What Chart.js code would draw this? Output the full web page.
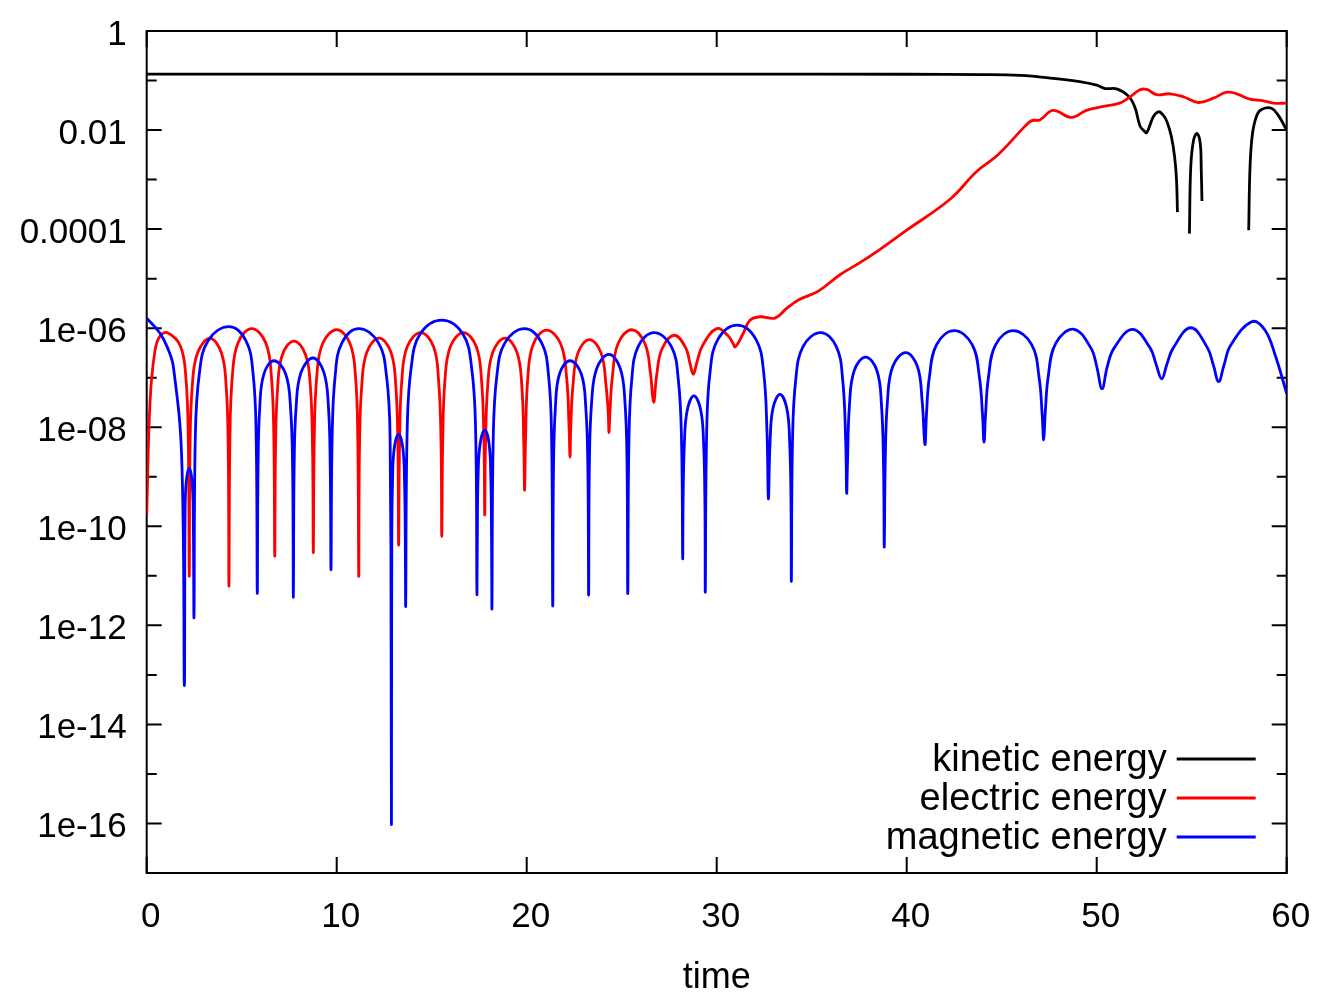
<!DOCTYPE html>
<html>
<head>
<meta charset="utf-8">
<title>Energies vs time</title>
<script src="https://cdn.jsdelivr.net/npm/chart.js@4.4.1/dist/chart.umd.min.js"></script>
<style>
  html, body { margin: 0; padding: 0; background: #fff; }
  #wrap { width: 1334px; height: 1000px; position: relative; }
</style>
</head>
<body>
<div id="wrap"><canvas id="energyChart"></canvas></div>
<script>
// axis ticks
const xTicks = [0, 10, 20, 30, 40, 50, 60];
const yTickValues = [1, 1e-1, 1e-2, 1e-3, 1e-4, 1e-5, 1e-6, 1e-7, 1e-8, 1e-9, 1e-10, 1e-11, 1e-12, 1e-13, 1e-14, 1e-15, 1e-16];
const yTickLabels = ['1', '', '0.01', '', '0.0001', '', '1e-06', '', '1e-08', '', '1e-10', '', '1e-12', '', '1e-14', '', '1e-16'];

const seriesLabels = ['kinetic energy', 'electric energy', 'magnetic energy'];
const seriesColors = ['#000000', '#ff0000', '#0000ff'];

// kinetic energy (null = gap, value <= 0 in the log plot)
const kineticT = [0, 30, 40, 44, 45.97, 47.70, 49.10, 50.00, 50.44, 51.05, 51.66, 52.00, 52.28, 52.45, 52.63, 52.98, 53.25, 53.50, 53.70, 53.93, 54.10, 54.20, 54.25, 54.55, 54.88, 54.95, 55.10, 55.28, 55.45, 55.50, 55.54, 56.80, 58.00, 58.07, 58.20, 58.43, 58.70, 59.20, 59.55, 60.0];
const kineticE = [0.135, 0.135, 0.134, 0.132, 0.127, 0.111, 0.0955, 0.081, 0.069, 0.068, 0.049, 0.0295, 0.012, 0.010, 0.0089, 0.0186, 0.0234, 0.020, 0.0148, 0.0074, 0.0029, 0.001, 2.2e-4, null, 8.1e-5, 1.8e-3, 6.3e-3, 8.5e-3, 5.4e-3, 1.8e-3, 3.7e-4, null, 9.5e-5, 1.8e-3, 8.5e-3, 0.020, 0.0263, 0.0275, 0.020, 0.010];

// electric energy
const electricT = [0, 0.18, 0.44, 0.70, 1.10, 1.78, 2.07, 2.19, 2.24, 2.28, 2.40, 2.68, 3.33, 3.93, 4.18, 4.29, 4.33, 4.38, 4.51, 4.81, 5.53, 6.26, 6.56, 6.69, 6.74, 6.78, 6.89, 7.14, 7.75, 8.36, 8.62, 8.73, 8.77, 8.82, 8.95, 9.26, 10.0, 10.70, 10.99, 11.11, 11.16, 11.20, 11.32, 11.59, 12.23, 12.85, 13.11, 13.22, 13.26, 13.31, 13.43, 13.72, 14.42, 15.09, 15.36, 15.49, 15.53, 15.58, 15.70, 15.99, 16.67, 17.34, 17.62, 17.75, 17.79, 17.83, 17.95, 18.22, 18.86, 19.48, 19.74, 19.85, 19.89, 19.94, 20.06, 20.35, 21.05, 21.79, 22.10, 22.23, 22.28, 22.32, 22.43, 22.69, 23.30, 23.92, 24.18, 24.29, 24.33, 24.38, 24.51, 24.81, 25.53, 26.22, 26.51, 26.68, 26.84, 27.12, 27.77, 28.37, 28.60, 28.77, 28.95, 29.26, 30.0, 30.59, 30.85, 30.98, 31.40, 31.75, 32.28, 33.07, 33.68, 34.30, 35.35, 36.49, 37.54, 38.60, 40.0, 42.28, 43.68, 44.82, 46.23, 46.58, 47.0, 47.70, 48.67, 49.46, 50.35, 51.20, 51.66, 52.28, 52.63, 53.16, 53.86, 54.56, 55.35, 56.14, 56.84, 57.37, 58.07, 58.77, 59.30, 60.0];
const electricE = [1.7e-10, 3.5e-8, 3.6e-7, 6.9e-7, 8.1e-7, 4.3e-7, 9.1e-8, 5.1e-9, 9.8e-12, 3.9e-9, 6.9e-8, 3.2e-7, 6.2e-7, 3.2e-7, 6.9e-8, 3.9e-9, 6.2e-12, 6.2e-9, 1.1e-7, 5.1e-7, 9.8e-7, 5.1e-7, 1.1e-7, 6.2e-9, 2.5e-11, 3.5e-9, 6.2e-8, 2.9e-7, 5.5e-7, 2.9e-7, 6.2e-8, 3.5e-9, 2.95e-11, 5.9e-9, 1.05e-7, 4.9e-7, 9.3e-7, 4.9e-7, 1.05e-7, 5.9e-9, 9.8e-12, 4.0e-9, 7.1e-8, 3.3e-7, 6.3e-7, 3.3e-7, 7.1e-8, 4.0e-9, 4.2e-11, 5.1e-9, 9.1e-8, 4.3e-7, 8.1e-7, 4.3e-7, 9.1e-8, 5.1e-9, 6.3e-11, 5.1e-9, 9.1e-8, 4.3e-7, 8.1e-7, 4.3e-7, 9.1e-8, 5.1e-9, 1.7e-10, 4.0e-9, 7.1e-8, 3.3e-7, 6.3e-7, 3.3e-7, 7.1e-8, 4.0e-9, 5.4e-10, 5.8e-9, 1.02e-7, 4.8e-7, 9.1e-7, 4.8e-7, 1.02e-7, 1.0e-8, 2.5e-9, 1.0e-8, 6.6e-8, 3.1e-7, 5.9e-7, 3.1e-7, 6.6e-8, 2.0e-8, 7.8e-9, 2.0e-8, 1.05e-7, 4.9e-7, 9.3e-7, 4.9e-7, 1.26e-7, 3.2e-8, 1.12e-7, 3.8e-7, 7.2e-7, 4.0e-7, 1.9e-7, 1.17e-7, 2.0e-7, 4.5e-7, 9.8e-7, 7.1e-7, 5.0e-7, 4.2e-7, 7.9e-7, 1.45e-6, 1.7e-6, 1.6e-6, 2.5e-6, 3.7e-6, 5.6e-6, 1.2e-5, 2.1e-5, 3.9e-5, 9.5e-5, 4.0e-4, 1.45e-3, 3.2e-3, 1.2e-2, 1.55e-2, 1.6e-2, 2.5e-2, 1.8e-2, 2.5e-2, 3.0e-2, 3.5e-2, 4.4e-2, 6.5e-2, 6.6e-2, 5.2e-2, 5.4e-2, 4.7e-2, 3.6e-2, 4.4e-2, 5.8e-2, 5.4e-2, 4.2e-2, 3.9e-2, 3.5e-2, 3.5e-2];

// magnetic energy
const magneticT = [0, 0.7, 1.1, 1.4, 1.84, 1.98, 2.02, 2.08, 2.24, 2.39, 2.45, 2.49, 2.56, 2.77, 3.23, 4.33, 5.22, 5.60, 5.76, 5.82, 5.86, 5.95, 6.17, 6.70, 7.31, 7.57, 7.68, 7.72, 7.76, 7.87, 8.13, 8.75, 9.32, 9.56, 9.66, 9.70, 9.76, 9.92, 10.28, 11.16, 12.19, 12.62, 12.81, 12.88, 12.90, 12.94, 13.03, 13.26, 13.48, 13.57, 13.61, 13.63, 13.71, 13.92, 14.39, 15.53, 16.64, 17.10, 17.31, 17.38, 17.40, 17.44, 17.55, 17.80, 18.02, 18.11, 18.15, 18.17, 18.24, 18.43, 18.86, 19.89, 20.78, 21.15, 21.31, 21.37, 21.41, 21.51, 21.73, 22.28, 22.87, 23.11, 23.22, 23.26, 23.30, 23.42, 23.69, 24.33, 24.92, 25.17, 25.28, 25.32, 25.38, 25.53, 25.87, 26.70, 27.61, 27.98, 28.15, 28.21, 28.23, 28.30, 28.45, 28.80, 29.16, 29.31, 29.38, 29.40, 29.47, 29.65, 30.07, 31.08, 32.06, 32.47, 32.65, 32.72, 32.81, 32.96, 33.33, 33.69, 33.84, 33.91, 33.93, 33.99, 34.16, 34.55, 35.47, 36.29, 36.63, 36.79, 36.84, 36.88, 36.99, 37.24, 37.84, 38.43, 38.67, 38.78, 38.82, 38.87, 38.99, 39.27, 39.95, 40.56, 40.81, 40.96, 41.04, 41.19, 41.58, 42.50, 43.44, 43.83, 43.99, 44.07, 44.15, 44.30, 44.69, 45.61, 46.57, 46.97, 47.13, 47.21, 47.29, 47.45, 47.85, 48.80, 49.69, 50.00, 50.28, 50.56, 50.92, 51.89, 52.81, 53.12, 53.42, 53.70, 54.03, 54.95, 55.83, 56.14, 56.42, 56.70, 57.05, 58.16, 58.86, 59.40, 60.0];
const magneticE = [1.6e-6, 7.9e-7, 4.0e-7, 1.7e-7, 2.5e-9, 6.3e-14, 1.7e-10, 7.8e-10, 1.5e-9, 7.8e-10, 1.7e-10, 1.5e-12, 6.8e-9, 1.2e-7, 5.6e-7, 1.07e-6, 5.6e-7, 1.2e-7, 6.8e-9, 4.5e-12, 1.4e-9, 2.5e-8, 1.2e-7, 2.2e-7, 1.2e-7, 2.5e-8, 1.4e-9, 3.7e-12, 1.55e-9, 2.8e-8, 1.3e-7, 2.5e-7, 1.3e-7, 2.8e-8, 1.55e-9, 1.35e-11, 6.2e-9, 1.1e-7, 5.1e-7, 9.8e-7, 5.1e-7, 1.1e-7, 6.2e-9, 1e-16, 5.0e-11, 8.1e-10, 3.8e-9, 7.2e-9, 3.8e-9, 8.1e-10, 5.0e-11, 2.6e-12, 9.1e-9, 1.6e-7, 7.6e-7, 1.45e-6, 7.6e-7, 1.6e-7, 9.1e-9, 4.5e-12, 5.5e-11, 9.8e-10, 4.6e-9, 8.7e-9, 4.6e-9, 9.8e-10, 5.5e-11, 2.3e-12, 6.2e-9, 1.1e-7, 5.1e-7, 9.8e-7, 5.1e-7, 1.1e-7, 6.2e-9, 2.5e-12, 1.4e-9, 2.5e-8, 1.2e-7, 2.2e-7, 1.2e-7, 2.5e-8, 1.4e-9, 4.1e-12, 1.9e-9, 3.3e-8, 1.55e-7, 2.95e-7, 1.55e-7, 3.3e-8, 1.9e-9, 4.4e-12, 5.1e-9, 9.1e-8, 4.3e-7, 8.1e-7, 4.3e-7, 9.1e-8, 5.1e-9, 2.3e-11, 2.7e-10, 4.8e-9, 2.2e-8, 4.3e-8, 2.2e-8, 4.8e-9, 2.7e-10, 4.9e-12, 7.2e-9, 1.3e-7, 6.0e-7, 1.15e-6, 6.0e-7, 1.3e-7, 7.2e-9, 3.6e-10, 5.1e-9, 2.4e-8, 4.6e-8, 2.4e-8, 5.1e-9, 2.9e-10, 8.1e-12, 5.1e-9, 9.1e-8, 4.3e-7, 8.1e-7, 4.3e-7, 9.1e-8, 5.1e-9, 4.7e-10, 1.7e-9, 2.9e-8, 1.4e-7, 2.6e-7, 1.4e-7, 2.9e-8, 1.7e-9, 3.8e-11, 2.0e-9, 3.5e-8, 1.7e-7, 3.2e-7, 1.7e-7, 3.5e-8, 4.5e-9, 1.8e-8, 1.0e-7, 4.7e-7, 8.9e-7, 4.7e-7, 1.0e-7, 1.8e-8, 5.0e-9, 1.8e-8, 1.0e-7, 4.7e-7, 8.9e-7, 4.7e-7, 1.0e-7, 1.8e-8, 5.6e-9, 1.9e-8, 1.07e-7, 5.0e-7, 9.5e-7, 4.0e-7, 1.7e-7, 6.0e-8, 1.7e-7, 4.0e-7, 9.5e-7, 4.0e-7, 1.9e-7, 9.5e-8, 1.9e-7, 4.0e-7, 1.02e-6, 4.0e-7, 1.8e-7, 8.3e-8, 1.8e-7, 4.5e-7, 1.35e-6, 9.1e-7, 2.8e-7, 4.8e-8];

const FONT = 'Liberation Sans, Arial, Helvetica, sans-serif';

function toPoints(ts, vs) {
    return ts.map((t, i) => ({ x: t, y: vs[i] }));
}

// gnuplot style frame: border plus inward ticks mirrored on all four sides
const frame = {
    id: 'frame',
    beforeDatasetsDraw(chart) {
        const { ctx, chartArea: a, scales: { x, y } } = chart;
        ctx.save();
        ctx.strokeStyle = '#000';
        ctx.lineWidth = 2;
        ctx.beginPath();
        xTicks.forEach(v => {
            const px = x.getPixelForValue(v);
            ctx.moveTo(px, a.bottom); ctx.lineTo(px, a.bottom - 16);
            ctx.moveTo(px, a.top); ctx.lineTo(px, a.top + 16);
        });
        yTickValues.forEach((v, i) => {
            const py = y.getPixelForValue(v);
            const len = yTickLabels[i] ? 15 : 10;
            ctx.moveTo(a.left, py); ctx.lineTo(a.left + len, py);
            ctx.moveTo(a.right, py); ctx.lineTo(a.right - len, py);
        });
        ctx.stroke();
        ctx.strokeRect(a.left, a.top, a.right - a.left, a.bottom - a.top);
        ctx.restore();
    }
};

// key in the lower right corner, text right aligned before the line sample
const key = {
    id: 'key',
    afterDatasetsDraw(chart) {
        const { ctx, chartArea: a } = chart;
        ctx.save();
        ctx.font = '38px ' + FONT;
        ctx.textAlign = 'right';
        ctx.textBaseline = 'middle';
        chart.data.datasets.forEach((ds, i) => {
            const yy = a.bottom - 114 + i * 39;
            ctx.fillStyle = '#000';
            ctx.fillText(ds.label, a.right - 120, yy + 2);
            ctx.strokeStyle = ds.borderColor;
            ctx.lineWidth = 2.8;
            ctx.beginPath();
            ctx.moveTo(a.right - 110, yy);
            ctx.lineTo(a.right - 31, yy);
            ctx.stroke();
        });
        ctx.restore();
    }
};

const ctx = document.getElementById('energyChart');
new Chart(ctx, {
    type: 'line',
    data: {
        datasets: [
            { label: seriesLabels[0], data: toPoints(kineticT, kineticE), borderColor: seriesColors[0], order: 3 },
            { label: seriesLabels[1], data: toPoints(electricT, electricE), borderColor: seriesColors[1], order: 2 },
            { label: seriesLabels[2], data: toPoints(magneticT, magneticE), borderColor: seriesColors[2], order: 1 }
        ]
    },
    options: {
        responsive: true,
        maintainAspectRatio: false,
        animation: false,
        layout: { padding: { top: 31, right: 47.3, left: 0, bottom: 0 } },
        elements: {
            point: { radius: 0, hoverRadius: 0 },
            line: { borderWidth: 2.8, tension: 0.4, fill: false, spanGaps: false }
        },
        plugins: {
            legend: { display: false },
            tooltip: { enabled: false }
        },
        scales: {
            x: {
                type: 'linear',
                min: 0,
                max: 60,
                grid: { display: false, drawTicks: false },
                border: { display: false },
                afterBuildTicks: s => { s.ticks = xTicks.map(v => ({ value: v })); },
                afterFit: s => { s.height = 127; },
                ticks: { color: '#000', font: { family: FONT, size: 35 }, padding: 23, labelOffset: 4, maxRotation: 0, autoSkip: false },
                title: { display: true, text: 'time', color: '#000', font: { family: FONT, size: 36 }, padding: { top: 0, bottom: 0 } }
            },
            y: {
                type: 'logarithmic',
                min: 1e-17,
                max: 1,
                grid: { display: false, drawTicks: false },
                border: { display: false },
                afterBuildTicks: s => { s.ticks = yTickValues.map(v => ({ value: v })); },
                afterFit: s => { s.width = 146.7; },
                ticks: {
                    color: '#000',
                    font: { family: FONT, size: 35, lineHeight: 0.6 },
                    padding: 20,
                    labelOffset: 4,
                    autoSkip: false,
                    callback: (v, i) => yTickLabels[i]
                }
            }
        }
    },
    plugins: [frame, key]
});
</script>
</body>
</html>
